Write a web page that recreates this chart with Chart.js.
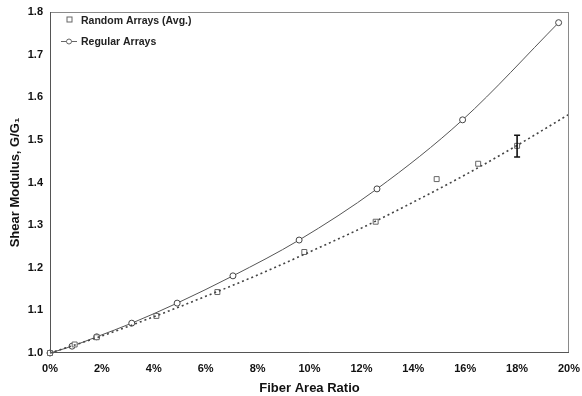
<!DOCTYPE html>
<html>
    <head>
        <title>Shear Modulus vs Fiber Area Ratio</title>
        <script src="https://cdn.jsdelivr.net/npm/chart.js@4.4.1/dist/chart.umd.min.js"></script>
        <style>
            html, body { margin: 0; padding: 0; background: #fff; }
            #wrap { width: 582px; height: 396px; }
        </style>
    </head>
    <body>
        <div id="wrap"><canvas id="chartnya"></canvas></div>
    </body>
    <script>
        // regular arrays (circles + solid curve)
        var regularX = [0, 0.85, 1.8, 3.15, 4.9, 7.05, 9.6, 12.6, 15.9, 19.6];
        var regularY = [1.0, 1.016, 1.038, 1.07, 1.117, 1.181, 1.265, 1.385, 1.547, 1.775];
        // random arrays, averaged (squares)
        var randomX = [0, 0.95, 1.8, 4.1, 6.45, 9.8, 12.55, 14.9, 16.5, 18.0];
        var randomY = [1.0, 1.02, 1.037, 1.087, 1.143, 1.237, 1.308, 1.408, 1.444, 1.486];
        // dotted trend line through the random arrays
        var trendX = [0, 2, 4, 6, 8, 10, 12, 14, 16, 18, 20];
        var trendY = [1.0, 1.04, 1.085, 1.133, 1.183, 1.237, 1.293, 1.354, 1.418, 1.487, 1.56];
        // error bar
        var errX = [18.0];
        var errLow = [1.46];
        var errHigh = [1.511];

        var xTicks = [0, 2, 4, 6, 8, 10, 12, 14, 16, 18, 20];
        var yTicks = [1.0, 1.1, 1.2, 1.3, 1.4, 1.5, 1.6, 1.7, 1.8];
        var legendLabels = ['Random Arrays (Avg.)', 'Regular Arrays'];

        function pts(xs, ys) {
            return xs.map(function (x, i) { return { x: x, y: ys[i] }; });
        }

        var FONT = '"Liberation Sans", Arial, sans-serif';

        var boxPlugin = {
            id: 'boxnya',
            afterDatasetsDraw: function (chart) {
                var ctx = chart.ctx, a = chart.chartArea;
                var xs = chart.scales.x, ys = chart.scales.y;
                ctx.save();
                // frame
                ctx.strokeStyle = '#8a8a8a';
                ctx.lineWidth = 1;
                ctx.strokeRect(a.left + 0.5, a.top + 0.5, a.right - a.left - 1, a.bottom - a.top - 1);
                ctx.strokeStyle = '#555';
                ctx.beginPath();
                ctx.moveTo(a.left + 0.5, a.top);
                ctx.lineTo(a.left + 0.5, a.bottom - 0.5);
                ctx.lineTo(a.right, a.bottom - 0.5);
                ctx.stroke();

                // error bar
                ctx.strokeStyle = '#111';
                ctx.lineWidth = 1.6;
                for (var i = 0; i < errX.length; i++) {
                    var px = xs.getPixelForValue(errX[i]);
                    var p1 = ys.getPixelForValue(errLow[i]);
                    var p2 = ys.getPixelForValue(errHigh[i]);
                    ctx.beginPath();
                    ctx.moveTo(px, p1); ctx.lineTo(px, p2);
                    ctx.moveTo(px - 3, p1); ctx.lineTo(px + 3, p1);
                    ctx.moveTo(px - 3, p2); ctx.lineTo(px + 3, p2);
                    ctx.stroke();
                }

                // legend inside the plot
                ctx.font = 'bold 10.5px ' + FONT;
                ctx.fillStyle = '#222';
                ctx.textBaseline = 'middle';
                ctx.fillText(legendLabels[0], a.left + 31, a.top + 9);
                ctx.fillText(legendLabels[1], a.left + 31, a.top + 30);
                ctx.strokeStyle = '#666';
                ctx.lineWidth = 1;
                ctx.strokeRect(a.left + 17, a.top + 5, 5, 5);
                ctx.beginPath();
                ctx.moveTo(a.left + 11, a.top + 29.5);
                ctx.lineTo(a.left + 27, a.top + 29.5);
                ctx.stroke();
                ctx.beginPath();
                ctx.arc(a.left + 19, a.top + 29.5, 2.5, 0, Math.PI * 2);
                ctx.fillStyle = '#fff';
                ctx.fill();
                ctx.stroke();
                ctx.restore();
            }
        };

        var ctx1 = document.getElementById('chartnya').getContext('2d');
        var chartnya = new Chart(ctx1, {
            type: 'line',
            data: {
                datasets: [
                    { label: 'trend', data: pts(trendX, trendY), borderColor: '#444', borderWidth: 1.6, borderDash: [2, 3], pointRadius: 0, cubicInterpolationMode: 'monotone', fill: false, clip: false },
                    { label: legendLabels[0], data: pts(randomX, randomY), showLine: false, pointStyle: 'rect', pointRadius: 3.5, pointBorderColor: '#666', pointBackgroundColor: '#fff', pointBorderWidth: 1, clip: false },
                    { label: legendLabels[1], data: pts(regularX, regularY), borderColor: '#555', borderWidth: 1, cubicInterpolationMode: 'monotone', pointRadius: 3, pointBorderColor: '#444', pointBackgroundColor: '#fff', pointBorderWidth: 1, fill: false, clip: false }
                ]
            },
            options: {
                responsive: true,
                maintainAspectRatio: false,
                animation: false,
                layout: { padding: { left: 0, right: 13, top: 12, bottom: 0 } },
                plugins: { legend: { display: false }, tooltip: { enabled: false } },
                scales: {
                    x: {
                        type: 'linear', min: 0, max: 20,
                        afterFit: function (s) { s.height = 43; s.paddingLeft = 0; s.paddingRight = 0; },
                        afterBuildTicks: function (s) { s.ticks = xTicks.map(function (v) { return { value: v }; }); },
                        grid: { display: false, drawTicks: false },
                        border: { display: false },
                        ticks: { padding: 9, color: '#111', font: { family: FONT, size: 11, weight: 'bold' }, maxRotation: 0, callback: function (v) { return v + '%'; } },
                        title: { display: true, text: 'Fiber Area Ratio', color: '#111', padding: { top: 0, bottom: 0 }, font: { family: FONT, size: 13, weight: 'bold' } }
                    },
                    y: {
                        min: 1.0, max: 1.8,
                        afterFit: function (s) { s.width = 50; s.paddingTop = 0; s.paddingBottom = 0; },
                        afterBuildTicks: function (s) { s.ticks = yTicks.map(function (v) { return { value: v }; }); },
                        grid: { display: false, drawTicks: false },
                        border: { display: false },
                        ticks: { padding: 7, color: '#111', font: { family: FONT, size: 11, weight: 'bold' }, callback: function (v) { return v.toFixed(1); } },
                        title: { display: true, text: 'Shear Modulus, G/G\u2081', color: '#111', padding: { top: 8, bottom: 0 }, font: { family: FONT, size: 13, weight: 'bold' } }
                    }
                }
            },
            plugins: [boxPlugin]
        });
    </script>
</html>
